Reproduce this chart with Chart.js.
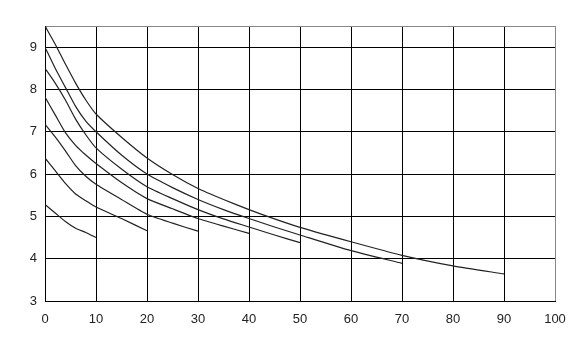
<!DOCTYPE html>
<html>
<head>
<meta charset="utf-8">
<script src="https://cdn.jsdelivr.net/npm/chart.js@4.4.1/dist/chart.umd.min.js"></script>
<style>
  html, body { margin: 0; padding: 0; background: #fff; }
  #wrap { width: 582px; height: 347px; }
</style>
</head>
<body>
<div id="wrap"><canvas id="chart"></canvas></div>
<script>
// x positions shared by all curves (each curve stops at its own length)
const xs = [0, 2, 4, 6, 8, 10, 15, 20, 25, 30, 35, 40, 45, 50, 60, 70, 80, 90];

const curveA = [5.28, 5.08, 4.88, 4.72, 4.62, 4.5];
const curveB = [6.38, 6.08, 5.78, 5.53, 5.37, 5.22, 4.95, 4.66];
const curveC = [7.18, 6.88, 6.55, 6.2, 5.95, 5.76, 5.4, 5.05, 4.84, 4.65];
const curveD = [7.82, 7.4, 6.98, 6.68, 6.45, 6.25, 5.8, 5.42, 5.18, 4.95, 4.77, 4.6];
const curveE = [8.5, 8.15, 7.75, 7.3, 6.93, 6.62, 6.12, 5.7, 5.42, 5.16, 4.94, 4.75, 4.56, 4.38];
const curveF = [9.0, 8.5, 8.05, 7.6, 7.25, 7.0, 6.45, 6.0, 5.68, 5.4, 5.16, 4.95, 4.75, 4.56, 4.19, 3.89];
const curveG = [9.5, 9.07, 8.6, 8.15, 7.75, 7.42, 6.87, 6.38, 5.99, 5.66, 5.4, 5.16, 4.94, 4.74, 4.4, 4.08, 3.83, 3.64];

const xTicks = [0, 10, 20, 30, 40, 50, 60, 70, 80, 90, 100];
const yTicks = [3, 4, 5, 6, 7, 8, 9];

const curves = [curveA, curveB, curveC, curveD, curveE, curveF, curveG];

// pair each y value with its x position
const toPoints = (vals) => vals.map((v, i) => ({ x: xs[i], y: v }));

const datasets = curves.map((c) => ({
  data: toPoints(c),
  borderColor: "#222",
  borderWidth: 1.2,
  pointRadius: 0,
  tension: 0.2,
  fill: false,
}));

const font = { family: "'Liberation Sans', Arial, sans-serif", size: 13 };

new Chart(document.getElementById("chart"), {
  type: "line",
  data: { datasets: datasets },
  options: {
    responsive: true,
    maintainAspectRatio: false,
    animation: false,
    layout: { padding: { left: 0, right: 27, top: 26, bottom: 0 } },
    plugins: { legend: { display: false }, tooltip: { enabled: false } },
    scales: {
      x: {
        type: "linear",
        min: 0,
        max: 100,
        afterBuildTicks: (s) => { s.ticks = xTicks.map((v) => ({ value: v })); },
        afterFit: (s) => { s.height = 46; },
        grid: {
          color: (ctx) => (ctx.tick && ctx.tick.value === 100 ? "#888" : "#000"),
          lineWidth: 1,
          drawTicks: false,
        },
        border: { color: "#000", width: 1 },
        ticks: { color: "#222", font: font, padding: 11, maxRotation: 0 },
      },
      y: {
        type: "linear",
        min: 3,
        max: 9.5,
        afterBuildTicks: (s) => {
          s.ticks = yTicks.map((v) => ({ value: v })).concat([{ value: 9.5 }]);
        },
        afterFit: (s) => { s.width = 45; },
        grid: {
          color: (ctx) => (ctx.tick && ctx.tick.value === 9.5 ? "#888" : "#000"),
          lineWidth: 1,
          drawTicks: false,
        },
        border: { color: "#000", width: 1 },
        ticks: {
          color: "#222",
          font: font,
          padding: 8,
          callback: (v) => (v === 9.5 ? "" : v),
        },
      },
    },
  },
});
</script>
</body>
</html>
